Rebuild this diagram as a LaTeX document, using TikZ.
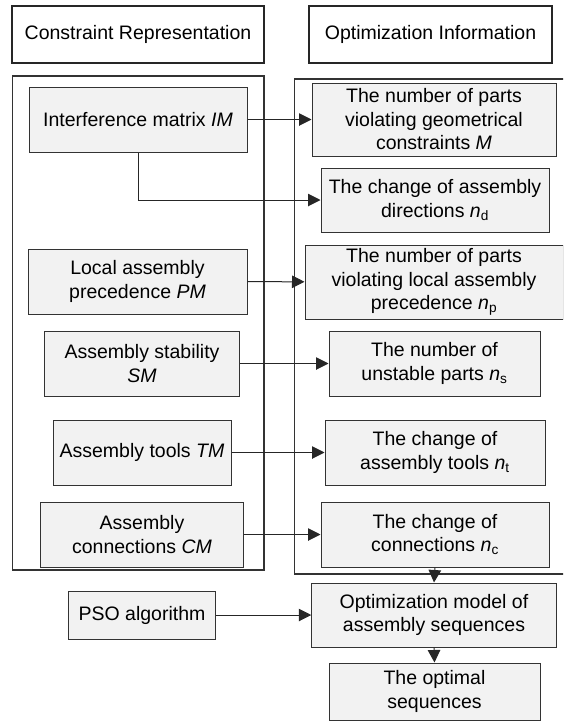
\documentclass[tikz,border=0pt]{standalone}
\usepackage{fontspec}
\setmainfont{Liberation Sans}
\usepackage{tikz}
\usetikzlibrary{arrows.meta}
\tikzstyle{hd} = [rectangle, align=center, inner sep=0pt, line width=1.6pt, draw=black!85, font=\fontsize{19.5}{23.5}\selectfont]
\tikzstyle{bx} = [rectangle, align=center, inner sep=0pt, line width=1pt, draw=black!80, fill=gray!10, font=\fontsize{19.5}{23.5}\selectfont]
\tikzstyle{ct} = [line width=1.2pt, draw=black!80]
\tikzstyle{ar} = [line width=1pt, draw=black!85, -{Triangle[length=12.5pt,width=12.5pt]}]

\begin{document}
\begin{tikzpicture}[x=1pt,y=-1pt]
    \useasboundingbox (0,0) rectangle (563,721);
    \clip (0,0) rectangle (563,721);
    % headers and the two frames
    \node (hdL) [hd, minimum width=252pt, minimum height=57pt] at (138,34.5) {Constraint Representation};
    \node (hdR) [hd, minimum width=243pt, minimum height=57pt] at (430.5,34.5) {Optimization Information};
    \draw[ct] (12.5,76) rectangle (264,570);
    \draw[ct] (294.5,79) rectangle (566,574);
    % constraint representation
    \node (IM) [bx, minimum width=218pt, minimum height=65pt] at (138,119.5) {Interference matrix \textit{IM}};
    \node (PM) [bx, minimum width=219pt, minimum height=65pt] at (137.5,281.5) {Local assembly\\precedence \textit{PM}};
    \node (SM) [bx, minimum width=195.5pt, minimum height=65pt] at (142,363.5) {Assembly stability\\\textit{SM}};
    \node (TM) [bx, minimum width=178pt, minimum height=65pt] at (142,452.5) {Assembly tools \textit{TM}};
    \node (CM) [bx, minimum width=203.5pt, minimum height=65pt] at (142,534.5) {Assembly\\connections \textit{CM}};
    \node (PSO) [bx, minimum width=147.5pt, minimum height=48pt] at (142,615) {PSO algorithm};
    % optimization information
    \node (M) [bx, minimum width=244pt, minimum height=73pt] at (434,119.5) {The number of parts\\violating geometrical\\constraints \textit{M}};
    \node (nd) [bx, minimum width=228pt, minimum height=64pt] at (435,200) {The change of assembly\\directions \textit{n}\textsubscript{d}};
    \node (np) [bx, minimum width=258pt, minimum height=74pt] at (434,282) {The number of parts\\violating local assembly\\precedence \textit{n}\textsubscript{p}};
    \node (ns) [bx, minimum width=211pt, minimum height=65pt] at (434.5,363.5) {The number of\\unstable parts \textit{n}\textsubscript{s}};
    \node (nt) [bx, minimum width=220pt, minimum height=65pt] at (435,452.5) {The change of\\assembly tools \textit{n}\textsubscript{t}};
    \node (nc) [bx, minimum width=228pt, minimum height=65pt] at (435,534.5) {The change of\\connections \textit{n}\textsubscript{c}};
    \node (Opt) [bx, minimum width=244.5pt, minimum height=64pt] at (434,615) {Optimization model of\\assembly sequences};
    \node (Seq) [bx, minimum width=211pt, minimum height=57pt] at (434.5,691.5) {The optimal\\sequences};
    % connectors
    \draw[ar] (IM) -- (M);
    \draw[ar] (IM.south) |- (nd.west);
    \draw[ar] (PM) -- (np);
    \draw[ar] (SM) -- (ns);
    \draw[ar] (TM) -- (nt);
    \draw[ar] (CM) -- (nc);
    \draw[ar] (nc.south) -- (Opt.north);
    \draw[ar] (PSO) -- (Opt);
    \draw[ar] (Opt.south) -- (Seq.north);
\end{tikzpicture}
\end{document}
